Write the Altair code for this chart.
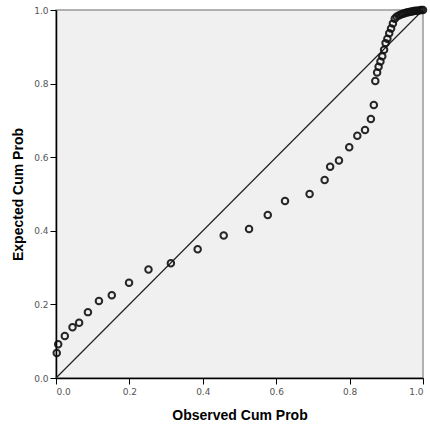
import altair as alt
import pandas as pd

observed = [0.002, 0.006, 0.024, 0.045, 0.063, 0.087, 0.117, 0.152, 0.199, 0.252,
            0.313, 0.386, 0.457, 0.526, 0.577, 0.624, 0.691, 0.732, 0.747, 0.771,
            0.799, 0.821, 0.842, 0.858, 0.866, 0.870, 0.875, 0.879, 0.884, 0.889,
            0.894, 0.898, 0.903, 0.908, 0.913, 0.918, 0.923, 0.928, 0.934, 0.940,
            0.945, 0.950, 0.955, 0.960, 0.965, 0.970, 0.975, 0.980, 0.985, 0.990,
            0.995, 1.000]
expected = [0.068, 0.092, 0.114, 0.138, 0.150, 0.179, 0.209, 0.225, 0.259, 0.295,
            0.312, 0.350, 0.387, 0.405, 0.443, 0.481, 0.500, 0.538, 0.574, 0.591,
            0.627, 0.658, 0.674, 0.704, 0.742, 0.807, 0.830, 0.846, 0.860, 0.874,
            0.892, 0.910, 0.922, 0.937, 0.950, 0.963, 0.976, 0.982, 0.985, 0.988,
            0.990, 0.991, 0.993, 0.994, 0.995, 0.996, 0.997, 0.998, 0.998, 0.999,
            1.000, 1.000]
line_x = [0.0, 1.0]
line_y = [0.0, 1.0]
ticks = [0.0, 0.2, 0.4, 0.6, 0.8, 1.0]

pts = pd.DataFrame({"obs": observed, "exp": expected})
diag = pd.DataFrame({"obs": line_x, "exp": line_y})

xs = alt.Scale(domain=[0, 1], nice=False, zero=False)
ys = alt.Scale(domain=[0, 1], nice=False, zero=False)

xaxis = alt.Axis(title="Observed Cum Prob", values=ticks, format=".1f", grid=False,
                 domainColor="#000", domainWidth=1.5, tickColor="#000", tickSize=6,
                 labelFont="DejaVu Sans", labelFontSize=9, labelColor="#555",
                 labelPadding=3, titleFont="Liberation Sans", titleFontSize=14,
                 titleFontWeight="bold", titleColor="#000", titlePadding=12)
yaxis = alt.Axis(title="Expected Cum Prob", values=ticks, format=".1f", grid=False,
                 domainColor="#000", domainWidth=1.5, tickColor="#000", tickSize=6,
                 labelFont="DejaVu Sans", labelFontSize=9, labelColor="#555",
                 labelPadding=2, titleFont="Liberation Sans", titleFontSize=14,
                 titleFontWeight="bold", titleColor="#000", titlePadding=8)

line = alt.Chart(diag).mark_line(color="#222", strokeWidth=1.2).encode(
    x=alt.X("obs:Q", scale=xs, axis=xaxis),
    y=alt.Y("exp:Q", scale=ys, axis=yaxis),
)
points = alt.Chart(pts).mark_point(shape="circle", filled=False, color="#111",
                                   size=42, strokeWidth=2, opacity=0.9).encode(
    x=alt.X("obs:Q", scale=xs),
    y=alt.Y("exp:Q", scale=ys),
)

chart = (line + points).properties(
    width=367, height=368,
    autosize=alt.AutoSizeParams(type="none"),
    padding={"left": 56, "top": 10, "right": 7, "bottom": 53},
    background="white",
).configure_view(fill="#f0f0f0", stroke="#999", strokeWidth=1.5)

chart.save("out.html", embed_options={"renderer": "svg", "actions": False})
